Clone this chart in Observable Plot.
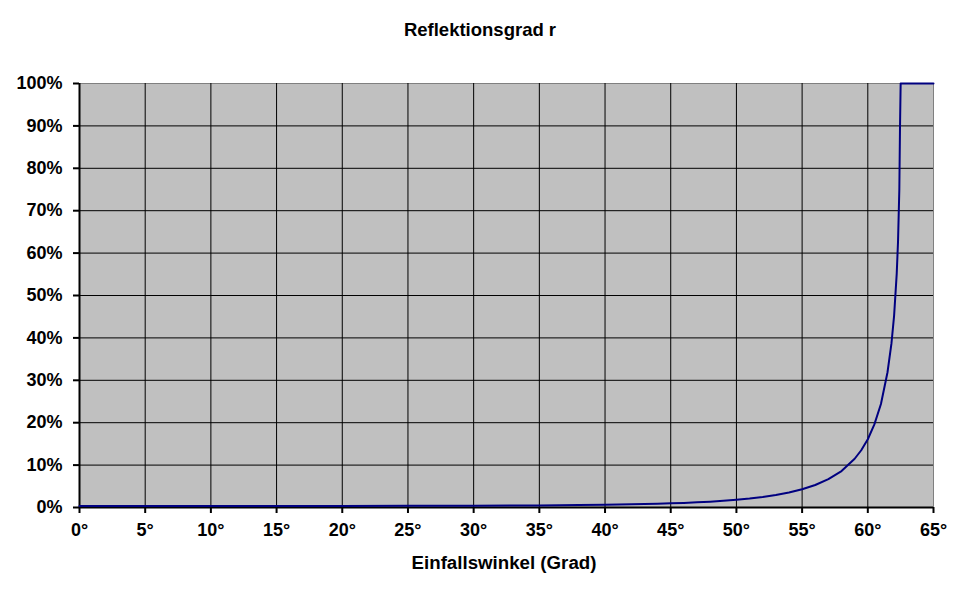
<!DOCTYPE html>
<html>
<head>
<meta charset="utf-8">
<script src="https://cdn.jsdelivr.net/npm/d3@7"></script>
<script src="https://cdn.jsdelivr.net/npm/@observablehq/plot@0.6"></script>
<style>
  html, body { margin: 0; padding: 0; background: #fff; }
  #chart svg { display: block; }
</style>
</head>
<body>
<div id="chart"></div>
<script>
// Incidence angle (degrees)
const angles = [0, 5, 10, 15, 20, 25, 30, 33, 35, 38, 40, 42, 44, 45, 46, 47, 48, 49, 50,
  51, 52, 53, 54, 55, 56, 57, 58, 59, 59.5, 60, 60.5, 61, 61.5, 61.8, 62, 62.2, 62.3,
  62.4, 62.45, 62.5, 65];
// Reflectance r (percent)
const reflectance = [0.36, 0.36, 0.36, 0.37, 0.37, 0.39, 0.42, 0.45, 0.49, 0.57, 0.64, 0.74,
  0.88, 0.98, 1.08, 1.22, 1.38, 1.58, 1.82, 2.1, 2.47, 2.95, 3.52, 4.3, 5.3, 6.7, 8.6,
  11.5, 13.5, 16.1, 19.6, 24.4, 31.9, 38.7, 45.2, 55.1, 62.7, 75.1, 89.6, 100, 100];
const xTicks = [0, 5, 10, 15, 20, 25, 30, 35, 40, 45, 50, 55, 60, 65];
const yTicks = [0, 10, 20, 30, 40, 50, 60, 70, 80, 90, 100];
const title = "Reflektionsgrad r";
const xLabel = "Einfallswinkel (Grad)";

const data = angles.map((a, i) => ({a, r: reflectance[i]}));

const chart = Plot.plot({
  width: 962,
  height: 595,
  marginLeft: 79,
  marginRight: 29,
  marginTop: 83,
  marginBottom: 88,
  style: {
    fontFamily: "'Liberation Sans', Arial, sans-serif",
    fontWeight: "bold",
    fontSize: "18px",
    background: "#fff",
    color: "#000"
  },
  x: {domain: [0, 65], label: null},
  y: {domain: [0, 100], label: null},
  marks: [
    Plot.frame({fill: "#C0C0C0", stroke: "#808080", strokeWidth: 1}),
    Plot.gridX(xTicks.filter(d => d > 0 && d < 65), {stroke: "#000", strokeOpacity: 1, strokeWidth: 1}),
    Plot.gridY(yTicks.filter(d => d > 0 && d < 100), {stroke: "#000", strokeOpacity: 1, strokeWidth: 1}),
    Plot.axisX({ticks: xTicks, tickFormat: d => d + "°", tickSize: 6, tickPadding: 10, strokeWidth: 2, label: null}),
    Plot.axisY({ticks: yTicks, tickFormat: d => d + "%", tickSize: 6, tickPadding: 11, strokeWidth: 2, label: null}),
    Plot.ruleX([0], {stroke: "#000", strokeWidth: 2}),
    Plot.ruleY([0], {stroke: "#000", strokeWidth: 2}),
    Plot.line(data, {x: "a", y: "r", stroke: "#000080", strokeWidth: 2}),
    Plot.text([title], {text: d => d, frameAnchor: "top", dx: -26.5, dy: -61, fontSize: 18.5, fontWeight: "bold"}),
    Plot.text([xLabel], {text: d => d, frameAnchor: "bottom", dx: -2.5, dy: 61, fontSize: 18.7, fontWeight: "bold"})
  ]
});
document.getElementById("chart").append(chart);
</script>
</body>
</html>
